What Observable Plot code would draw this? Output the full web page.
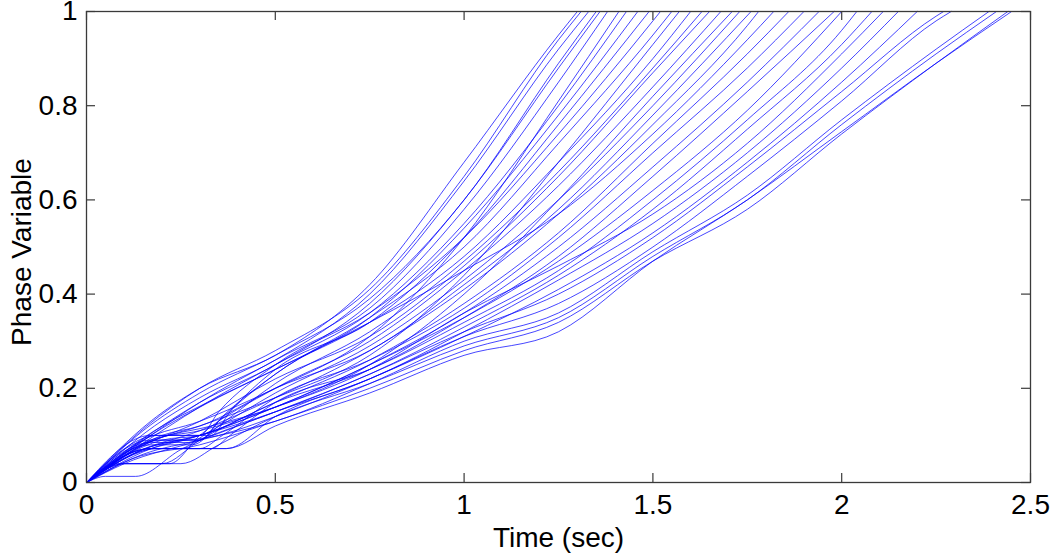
<!DOCTYPE html>
<html>
<head>
<meta charset="utf-8">
<script src="https://cdn.jsdelivr.net/npm/d3@7"></script>
<script src="https://cdn.jsdelivr.net/npm/@observablehq/plot@0.6"></script>
<style>
  html, body { margin: 0; padding: 0; background: #fff; }
</style>
</head>
<body>
<div id="chart"></div>
<script>
// ---- Data: phase variable trajectories, [time (s), phase] ----
const f01 = [[0,0],[0.17,0.13],[0.3,0.2],[0.5,0.27],[0.75,0.42],[1.0,0.68],[1.25,0.95],[1.3,1]];
const f02 = [[0,0],[0.16,0.12],[0.3,0.2],[0.5,0.28],[0.75,0.41],[1.0,0.65],[1.25,0.94],[1.31,1]];
const f03 = [[0,0],[0.18,0.12],[0.3,0.18],[0.5,0.26],[0.75,0.40],[1.0,0.64],[1.25,0.92],[1.33,1]];
const f04 = [[0,0],[0.15,0.11],[0.3,0.19],[0.5,0.27],[0.75,0.39],[1.0,0.60],[1.25,0.89],[1.35,1]];
const f05 = [[0,0],[0.2,0.12],[0.3,0.17],[0.5,0.25],[0.75,0.38],[1.0,0.60],[1.25,0.88],[1.36,1]];
const f06 = [[0,0],[0.17,0.1],[0.3,0.17],[0.5,0.26],[0.75,0.37],[1.0,0.58],[1.25,0.85],[1.38,1]];
const f07 = [[0,0],[0.15,0.09],[0.3,0.13],[0.5,0.2],[0.75,0.31],[1.0,0.52],[1.25,0.81],[1.41,1]];
const f08 = [[0,0],[0.2,0.11],[0.32,0.17],[0.5,0.25],[0.75,0.36],[1.0,0.55],[1.25,0.80],[1.43,1]];
const f09 = [[0,0],[0.17,0.09],[0.3,0.09],[0.35,0.13],[0.5,0.23],[0.75,0.35],[1.0,0.54],[1.25,0.78],[1.46,1]];
const f10 = [[0,0],[0.17,0.1],[0.33,0.1],[0.38,0.15],[0.5,0.24],[0.75,0.34],[1.0,0.52],[1.25,0.76],[1.49,1]];

const m01 = [[0,0],[0.19,0.1],[0.3,0.1],[0.35,0.15],[0.5,0.25],[0.75,0.36],[1.0,0.52],[1.25,0.74],[1.5,0.98],[1.52,1]];
const m02 = [[0,0],[0.2,0.09],[0.3,0.09],[0.36,0.14],[0.5,0.23],[0.75,0.35],[1.0,0.50],[1.25,0.72],[1.5,0.95],[1.55,1]];
const m03 = [[0,0],[0.15,0.08],[0.3,0.12],[0.5,0.18],[0.75,0.27],[1.0,0.44],[1.25,0.68],[1.5,0.93],[1.57,1]];
const m04 = [[0,0],[0.18,0.11],[0.32,0.17],[0.5,0.24],[0.75,0.34],[1.0,0.48],[1.25,0.68],[1.5,0.90],[1.6,1]];
const m05 = [[0,0],[0.17,0.08],[0.28,0.08],[0.35,0.12],[0.5,0.21],[0.75,0.32],[1.0,0.47],[1.25,0.66],[1.5,0.88],[1.63,1]];
const m06 = [[0,0],[0.13,0.07],[0.3,0.13],[0.5,0.22],[0.75,0.31],[1.0,0.46],[1.25,0.65],[1.5,0.87],[1.65,1]];
const m07 = [[0,0],[0.1,0.04],[0.22,0.04],[0.3,0.1],[0.5,0.2],[0.75,0.30],[1.0,0.45],[1.25,0.63],[1.5,0.84],[1.68,1]];
const m08 = [[0,0],[0.18,0.09],[0.33,0.12],[0.5,0.16],[0.75,0.25],[1.0,0.40],[1.25,0.60],[1.5,0.82],[1.71,1]];
const m09 = [[0,0],[0.17,0.085],[0.27,0.085],[0.33,0.11],[0.5,0.19],[0.75,0.29],[1.0,0.43],[1.25,0.60],[1.5,0.80],[1.73,1]];
const m10 = [[0,0],[0.2,0.1],[0.3,0.12],[0.5,0.2],[0.75,0.28],[1.0,0.42],[1.25,0.58],[1.5,0.78],[1.76,1]];
const m11 = [[0,0],[0.12,0.06],[0.3,0.11],[0.5,0.18],[0.75,0.28],[1.0,0.41],[1.25,0.57],[1.5,0.76],[1.75,0.97],[1.78,1]];
const m12 = [[0,0],[0.17,0.1],[0.3,0.16],[0.5,0.24],[0.75,0.34],[1.0,0.45],[1.25,0.57],[1.5,0.74],[1.75,0.94],[1.82,1]];
const m13 = [[0,0],[0.08,0.04],[0.2,0.04],[0.3,0.09],[0.5,0.17],[0.75,0.26],[1.0,0.38],[1.25,0.53],[1.5,0.72],[1.75,0.91],[1.86,1]];
const m14 = [[0,0],[0.17,0.072],[0.3,0.072],[0.36,0.1],[0.5,0.18],[0.75,0.26],[1.0,0.37],[1.25,0.52],[1.5,0.70],[1.75,0.88],[1.9,1]];
const m15 = [[0,0],[0.1,0.05],[0.3,0.1],[0.5,0.16],[0.75,0.25],[1.0,0.36],[1.25,0.50],[1.5,0.67],[1.75,0.85],[1.94,1]];
const m16 = [[0,0],[0.2,0.09],[0.3,0.1],[0.5,0.17],[0.75,0.24],[1.0,0.35],[1.25,0.48],[1.5,0.65],[1.75,0.83],[1.98,1]];

const s01 = [[0,0],[0.15,0.07],[0.3,0.1],[0.5,0.16],[0.75,0.25],[1.0,0.35],[1.25,0.47],[1.5,0.62],[1.75,0.79],[2.0,1]];
const s02 = [[0,0],[0.19,0.072],[0.33,0.072],[0.38,0.1],[0.5,0.17],[0.75,0.24],[1.0,0.34],[1.25,0.45],[1.5,0.60],[1.75,0.77],[2.0,0.96],[2.04,1]];
const s03 = [[0,0],[0.05,0.013],[0.13,0.013],[0.25,0.07],[0.5,0.15],[0.75,0.23],[1.0,0.33],[1.25,0.44],[1.5,0.58],[1.75,0.75],[2.0,0.93],[2.08,1]];
const s04 = [[0,0],[0.17,0.09],[0.3,0.11],[0.5,0.16],[0.75,0.24],[1.0,0.36],[1.25,0.46],[1.5,0.57],[1.75,0.72],[2.0,0.91],[2.11,1]];
const s05 = [[0,0],[0.1,0.04],[0.3,0.09],[0.5,0.15],[0.75,0.22],[1.0,0.32],[1.25,0.43],[1.5,0.55],[1.75,0.70],[2.0,0.88],[2.15,1]];
const s06 = [[0,0],[0.17,0.072],[0.37,0.072],[0.5,0.14],[0.75,0.22],[1.0,0.31],[1.25,0.41],[1.5,0.53],[1.75,0.68],[2.0,0.85],[2.2,1]];

const l01 = [[0,0],[0.15,0.07],[0.3,0.1],[0.5,0.15],[0.75,0.23],[1.0,0.32],[1.25,0.40],[1.5,0.52],[1.75,0.67],[2.0,0.83],[2.25,0.99],[2.27,1]];
const l02 = [[0,0],[0.2,0.08],[0.35,0.1],[0.5,0.14],[0.75,0.22],[1.0,0.31],[1.25,0.38],[1.5,0.50],[1.75,0.65],[2.0,0.81],[2.25,0.98],[2.29,1]];
const l03 = [[0,0],[0.15,0.06],[0.3,0.09],[0.5,0.13],[0.75,0.21],[1.0,0.30],[1.25,0.36],[1.5,0.49],[1.75,0.61],[2.0,0.77],[2.25,0.92],[2.39,1]];
const l04 = [[0,0],[0.1,0.04],[0.25,0.04],[0.35,0.08],[0.5,0.14],[0.75,0.21],[1.0,0.29],[1.25,0.35],[1.5,0.48],[1.75,0.60],[2.0,0.76],[2.25,0.91],[2.41,1]];
const l05 = [[0,0],[0.12,0.05],[0.3,0.08],[0.5,0.13],[0.75,0.20],[1.0,0.28],[1.25,0.34],[1.5,0.47],[1.75,0.58],[2.0,0.74],[2.25,0.89],[2.44,1]];
const l06 = [[0,0],[0.17,0.072],[0.37,0.072],[0.5,0.12],[0.75,0.19],[1.0,0.27],[1.25,0.32],[1.5,0.47],[1.75,0.60],[2.0,0.745],[2.25,0.89],[2.45,1]];

const xTicks = [0, 0.5, 1, 1.5, 2, 2.5];
const xTickLabels = ["0", "0.5", "1", "1.5", "2", "2.5"];
const yTicks = [0, 0.2, 0.4, 0.6, 0.8, 1];
const yTickLabels = ["0", "0.2", "0.4", "0.6", "0.8", "1"];
const xLabel = "Time (sec)";
const yLabel = "Phase Variable";

// ---- Build table ----
const curves = [f01,f02,f03,f04,f05,f06,f07,f08,f09,f10,
  m01,m02,m03,m04,m05,m06,m07,m08,m09,m10,m11,m12,m13,m14,m15,m16,
  s01,s02,s03,s04,s05,s06,
  l01,l02,l03,l04,l05,l06];
const rows = curves.flatMap((pts, id) => pts.map(([t, y]) => ({t, y, id})));

// ---- Layout ----
const W = 1050, H = 554;
const mL = 86, mR = 20, mT = 11, mB = 72;
const plotW = W - mL - mR, plotH = H - mT - mB;
const tickLen = 9;
const axisColor = "#3a3a3a";
const fs = 28;

const chart = Plot.plot({
  width: W, height: H,
  marginLeft: mL, marginRight: mR, marginTop: mT, marginBottom: mB,
  style: {fontFamily: "'Liberation Sans', Arial, sans-serif", background: "#fff", color: "#000", overflow: "visible"},
  x: {domain: [0, 2.5]},
  y: {domain: [0, 1]},
  marks: [
    Plot.line(rows, {x: "t", y: "y", z: "id", curve: "monotone-x", stroke: "#0000ff", strokeWidth: 1, strokeOpacity: 0.72}),
    Plot.frame({stroke: axisColor, strokeWidth: 1.3}),
    // inward ticks on all four sides
    Plot.ruleX(xTicks, {insetTop: plotH - tickLen, stroke: axisColor, strokeWidth: 1.2}),
    Plot.ruleX(xTicks, {insetBottom: plotH - tickLen, stroke: axisColor, strokeWidth: 1.2}),
    Plot.ruleY(yTicks, {insetRight: plotW - tickLen, stroke: axisColor, strokeWidth: 1.2}),
    Plot.ruleY(yTicks, {insetLeft: plotW - tickLen, stroke: axisColor, strokeWidth: 1.2}),
    Plot.axisX({ticks: xTicks, tickSize: 0, tickPadding: 12, fontSize: fs, label: null,
      tickFormat: d => xTickLabels[xTicks.indexOf(d)]}),
    Plot.axisY({ticks: yTicks, tickSize: 0, tickPadding: 9, fontSize: fs, label: null,
      tickFormat: d => yTickLabels[yTicks.indexOf(d)]}),
    Plot.text([xLabel], {text: d => d, frameAnchor: "bottom", dy: 56, fontSize: fs, textAnchor: "middle", lineAnchor: "middle", fill: "#000"}),
    Plot.text([yLabel], {text: d => d, frameAnchor: "left", dx: -64, dy: 5, rotate: -90, fontSize: fs, textAnchor: "middle", lineAnchor: "middle", fill: "#000"})
  ]
});
document.getElementById("chart").appendChild(chart);
</script>
</body>
</html>
